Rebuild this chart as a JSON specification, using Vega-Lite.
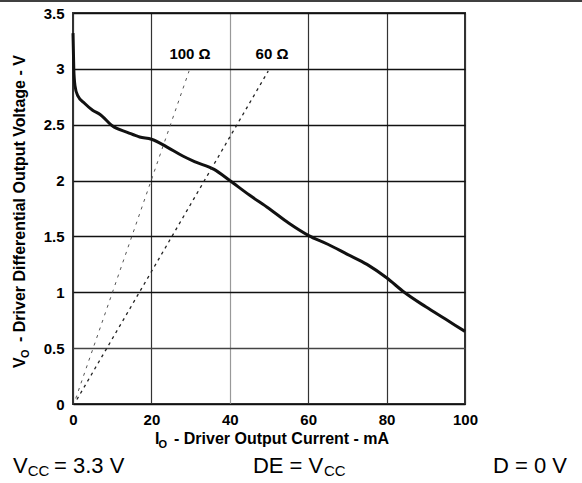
{
  "$schema": "https://vega.github.io/schema/vega-lite/v6.json",
  "width": 392,
  "height": 391,
  "autosize": "none",
  "padding": {"left": 73, "top": 13, "right": 117, "bottom": 79},
  "background": "white",
  "config": {
    "view": {"stroke": "#333", "strokeWidth": 2},
    "font": "Liberation Sans",
    "text": {"font": "Liberation Sans", "color": "black"}
  },
  "datasets": {
    "curve": [
      {"io": 0, "vo": 3.32},
      {"io": 0.2, "vo": 3.0},
      {"io": 0.5, "vo": 2.85},
      {"io": 1.2, "vo": 2.76},
      {"io": 3, "vo": 2.69},
      {"io": 5, "vo": 2.63},
      {"io": 7, "vo": 2.59},
      {"io": 10, "vo": 2.49},
      {"io": 14, "vo": 2.43},
      {"io": 17, "vo": 2.39},
      {"io": 20, "vo": 2.37},
      {"io": 24, "vo": 2.3},
      {"io": 28, "vo": 2.22},
      {"io": 31, "vo": 2.17},
      {"io": 36, "vo": 2.1},
      {"io": 40, "vo": 2.0},
      {"io": 45, "vo": 1.87},
      {"io": 50, "vo": 1.75},
      {"io": 55, "vo": 1.62},
      {"io": 60, "vo": 1.51},
      {"io": 65, "vo": 1.43},
      {"io": 70, "vo": 1.34},
      {"io": 75, "vo": 1.25},
      {"io": 80, "vo": 1.13},
      {"io": 84.5, "vo": 1.0},
      {"io": 90, "vo": 0.87},
      {"io": 95, "vo": 0.76},
      {"io": 100, "vo": 0.65}
    ],
    "load100": [
      {"io": 0.7, "vo": 0.05},
      {"io": 29.6, "vo": 2.98}
    ],
    "load60": [
      {"io": 1.0, "vo": 0.04},
      {"io": 49.8, "vo": 2.98}
    ]
  },
  "layer": [
    {
      "data": {"name": "curve"},
      "mark": {"type": "line", "color": "#111", "strokeWidth": 3, "interpolate": "monotone"},
      "encoding": {
        "x": {
          "field": "io", "type": "quantitative",
          "scale": {"domain": [0, 100], "nice": false},
          "axis": {
            "values": [0, 20, 40, 60, 80, 100], "format": "d", "title": null,
            "ticks": false, "tickSize": 0, "domain": false, "labelFlush": false,
            "labelFontSize": 15, "labelFontWeight": "bold", "labelColor": "black",
            "labelFont": "Liberation Sans", "labelPadding": 8,
            "grid": true, "gridOpacity": 1, "gridWidth": 1.2,
            "gridColor": {"condition": {"test": "datum.value === 40", "value": "#999"}, "value": "#333"}
          }
        },
        "y": {
          "field": "vo", "type": "quantitative",
          "scale": {"domain": [0, 3.5], "nice": false},
          "axis": {
            "values": [0, 0.5, 1, 1.5, 2, 2.5, 3, 3.5], "format": "~g", "title": null,
            "ticks": false, "tickSize": 0, "domain": false, "labelFlush": false,
            "labelFontSize": 15, "labelFontWeight": "bold", "labelColor": "black",
            "labelFont": "Liberation Sans", "labelPadding": 9,
            "grid": true, "gridOpacity": 1, "gridWidth": 1.5,
            "gridColor": {"condition": {"test": "datum.value === 0.5", "value": "#444"}, "value": "#111"}
          }
        }
      }
    },
    {
      "data": {"name": "load100"},
      "mark": {"type": "line", "color": "#555", "strokeWidth": 1, "strokeDash": [3, 5]},
      "encoding": {
        "x": {"field": "io", "type": "quantitative"},
        "y": {"field": "vo", "type": "quantitative"}
      }
    },
    {
      "data": {"name": "load60"},
      "mark": {"type": "line", "color": "#222", "strokeWidth": 1.3, "strokeDash": [3, 4]},
      "encoding": {
        "x": {"field": "io", "type": "quantitative"},
        "y": {"field": "vo", "type": "quantitative"}
      }
    },
    {
      "data": {"values": [{}]},
      "mark": {"type": "text", "text": "100 Ω", "fontSize": 15, "fontWeight": "bold", "align": "center", "baseline": "alphabetic"},
      "encoding": {"x": {"datum": 29.85}, "y": {"datum": 3.089}}
    },
    {
      "data": {"values": [{}]},
      "mark": {"type": "text", "text": "60 Ω", "fontSize": 15, "fontWeight": "bold", "align": "center", "baseline": "alphabetic"},
      "encoding": {"x": {"datum": 50.77}, "y": {"datum": 3.089}}
    },
    {
      "data": {"values": [{}]},
      "mark": {"type": "rule", "color": "black", "strokeWidth": 1.5},
      "encoding": {"x": {"datum": -18.62}, "x2": {"datum": 129.85}, "y": {"datum": 3.607}}
    },
    {
      "data": {"values": [{}]},
      "mark": {"type": "text", "text": "I", "fontSize": 16, "fontWeight": "bold", "align": "left", "baseline": "alphabetic"},
      "encoding": {"x": {"datum": 20.92}, "y": {"datum": -0.358}}
    },
    {
      "data": {"values": [{}]},
      "mark": {"type": "text", "text": "O", "fontSize": 11, "fontWeight": "bold", "align": "left", "baseline": "alphabetic"},
      "encoding": {"x": {"datum": 21.81}, "y": {"datum": -0.394}}
    },
    {
      "data": {"values": [{}]},
      "mark": {"type": "text", "text": "- Driver Output Current - mA", "fontSize": 16, "fontWeight": "bold", "align": "left", "baseline": "alphabetic"},
      "encoding": {"x": {"datum": 25.77}, "y": {"datum": -0.358}}
    },
    {
      "data": {"values": [{}]},
      "mark": {"type": "text", "text": "V", "fontSize": 16, "fontWeight": "bold", "align": "left", "baseline": "alphabetic", "angle": 270},
      "encoding": {"x": {"datum": -12.24}, "y": {"datum": 0.322}}
    },
    {
      "data": {"values": [{}]},
      "mark": {"type": "text", "text": "O", "fontSize": 11, "fontWeight": "bold", "align": "left", "baseline": "alphabetic", "angle": 270},
      "encoding": {"x": {"datum": -11.22}, "y": {"datum": 0.412}}
    },
    {
      "data": {"values": [{}]},
      "mark": {"type": "text", "text": "- Driver Differential Output Voltage - V", "fontSize": 16, "fontWeight": "bold", "align": "left", "baseline": "alphabetic", "angle": 270},
      "encoding": {"x": {"datum": -12.24}, "y": {"datum": 0.555}}
    },
    {
      "data": {"values": [{}]},
      "mark": {"type": "text", "text": "V", "fontSize": 22, "align": "left", "baseline": "alphabetic"},
      "encoding": {"x": {"datum": -15.31}, "y": {"datum": -0.618}}
    },
    {
      "data": {"values": [{}]},
      "mark": {"type": "text", "text": "CC", "fontSize": 15, "align": "left", "baseline": "alphabetic"},
      "encoding": {"x": {"datum": -11.55}, "y": {"datum": -0.645}}
    },
    {
      "data": {"values": [{}]},
      "mark": {"type": "text", "text": "= 3.3 V", "fontSize": 22, "align": "left", "baseline": "alphabetic"},
      "encoding": {"x": {"datum": -4.85}, "y": {"datum": -0.618}}
    },
    {
      "data": {"values": [{}]},
      "mark": {"type": "text", "text": "DE = V", "fontSize": 22, "align": "left", "baseline": "alphabetic"},
      "encoding": {"x": {"datum": 45.9}, "y": {"datum": -0.618}}
    },
    {
      "data": {"values": [{}]},
      "mark": {"type": "text", "text": "CC", "fontSize": 15, "align": "left", "baseline": "alphabetic"},
      "encoding": {"x": {"datum": 64.0}, "y": {"datum": -0.645}}
    },
    {
      "data": {"values": [{}]},
      "mark": {"type": "text", "text": "D = 0 V", "fontSize": 22, "align": "right", "baseline": "alphabetic"},
      "encoding": {"x": {"datum": 126.02}, "y": {"datum": -0.618}}
    }
  ]
}
